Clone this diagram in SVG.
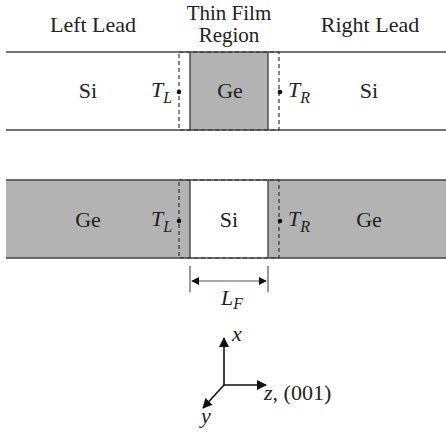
<svg xmlns="http://www.w3.org/2000/svg" width="446" height="438" viewBox="0 0 446 438" font-family="'Liberation Serif','Times New Roman','DejaVu Serif',serif">
<style>
text{font-family:'Liberation Serif','Times New Roman','DejaVu Serif',serif;font-size:22px;fill:#222}
.hd{font-size:21px}
.it{font-style:italic}
.sub{font-style:italic;font-size:16px}
.band{stroke:#444;stroke-width:1.6;fill:none}
.side{stroke:#444;stroke-width:1.4;fill:none}
.dash{stroke:#333;stroke-width:1.2;stroke-dasharray:4 3;fill:none}
.conn{stroke:#111;stroke-width:1.6;fill:none}
.dim{stroke:#555;stroke-width:1.2;fill:none}
</style>
<defs>
<marker id="ah" viewBox="0 0 10 10" refX="9" refY="5" markerWidth="8" markerHeight="8" markerUnits="userSpaceOnUse" orient="auto-start-reverse">
<path d="M0,0 L10,5 L0,10 z" fill="#111"/>
</marker>
<marker id="ah2" viewBox="0 0 10 10" refX="9" refY="5" markerWidth="10" markerHeight="10" markerUnits="userSpaceOnUse" orient="auto-start-reverse">
<path d="M0,0 L10,5 L0,10 z" fill="#111"/>
</marker>
</defs>

<g id="headers">
<text x="93" y="32" text-anchor="middle">Left Lead</text>
<text x="229" y="20" text-anchor="middle" class="hd">Thin Film</text>
<text x="229" y="42" text-anchor="middle" class="hd">Region</text>
<text x="370" y="32" text-anchor="middle">Right Lead</text>
</g>

<g id="top-structure">
<rect x="190" y="52" width="78" height="78" fill="#b3b3b3"/>
<line class="side" x1="190" y1="52" x2="190" y2="130"/>
<line class="side" x1="268" y1="52" x2="268" y2="130"/>
<line class="band" x1="6" y1="52" x2="446" y2="52"/>
<line class="band" x1="6" y1="130" x2="446" y2="130"/>
<rect class="dash" x="179" y="52" width="100" height="78"/>
<circle cx="179" cy="92" r="2.3" fill="#111"/>
<circle cx="280" cy="92" r="2.3" fill="#111"/>
<text x="88" y="98" text-anchor="middle">Si</text>
<text x="230" y="98" text-anchor="middle">Ge</text>
<text x="369" y="98" text-anchor="middle">Si</text>
<text x="151" y="97" class="it">T<tspan class="sub" dy="6">L</tspan></text>
<text x="288" y="97" class="it">T<tspan class="sub" dy="6">R</tspan></text>
</g>

<g id="bottom-structure">
<rect x="6" y="180" width="440" height="78" fill="#b3b3b3"/>
<rect x="190" y="180" width="78" height="78" fill="#ffffff"/>
<line class="side" x1="190" y1="180" x2="190" y2="258"/>
<line class="side" x1="268" y1="180" x2="268" y2="258"/>
<line class="band" x1="6" y1="180" x2="446" y2="180"/>
<line class="band" x1="6" y1="258" x2="446" y2="258"/>
<rect class="dash" x="179" y="180" width="100" height="78"/>
<circle cx="179" cy="221" r="2.3" fill="#111"/>
<circle cx="280" cy="221" r="2.3" fill="#111"/>
<text x="88" y="227" text-anchor="middle">Ge</text>
<text x="229" y="227" text-anchor="middle">Si</text>
<text x="369" y="227" text-anchor="middle">Ge</text>
<text x="151" y="226" class="it">T<tspan class="sub" dy="6">L</tspan></text>
<text x="288" y="226" class="it">T<tspan class="sub" dy="6">R</tspan></text>
</g>

<g id="dimension">
<line class="dim" x1="190" y1="266" x2="190" y2="292"/>
<line class="dim" x1="268" y1="266" x2="268" y2="292"/>
<text x="221" y="305" class="it">L<tspan class="sub" dy="4">F</tspan></text>
</g>

<g id="axes">
<text x="232" y="341" class="it">x</text>
<text x="264" y="400"><tspan class="it">z</tspan>, (001)</text>
<text x="201" y="423" class="it">y</text>
</g>

<g id="connectors">
<line class="dim" x1="192" y1="281" x2="266" y2="281" marker-start="url(#ah)" marker-end="url(#ah)"/>
<line class="conn" x1="224" y1="385" x2="224" y2="338" marker-end="url(#ah2)"/>
<line class="conn" x1="224" y1="385" x2="266" y2="385" marker-end="url(#ah2)"/>
<line class="conn" x1="224" y1="385" x2="203" y2="408" marker-end="url(#ah2)"/>
</g>
</svg>
